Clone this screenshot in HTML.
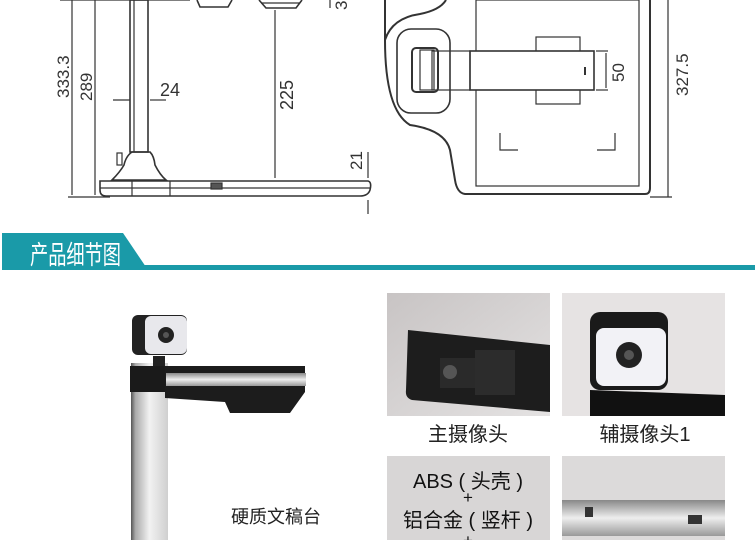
<!DOCTYPE html>
<html><head><meta charset="utf-8"><style>
html,body{margin:0;padding:0;background:#fff;width:755px;height:540px;overflow:hidden}
svg{display:block}
text{font-family:"Liberation Sans","Noto Sans CJK SC",sans-serif}
</style></head><body>
<svg width="755" height="540" viewBox="0 0 755 540" xmlns="http://www.w3.org/2000/svg">
<defs>
<linearGradient id="pole" x1="0" x2="1"><stop offset="0" stop-color="#555"/><stop offset=".12" stop-color="#aaa"/><stop offset=".5" stop-color="#f2f2f2"/><stop offset="1" stop-color="#cfcfcf"/></linearGradient>
<linearGradient id="bar" x1="0" y1="0" x2="0" y2="1"><stop offset="0" stop-color="#888"/><stop offset=".5" stop-color="#eee"/><stop offset="1" stop-color="#999"/></linearGradient>
<linearGradient id="ph1" x1="0" y1="0" x2="1" y2="1"><stop offset="0" stop-color="#c8c4c4"/><stop offset="1" stop-color="#e4e2e2"/></linearGradient>
</defs>
<g fill="none" stroke="#333" stroke-width="1.2">
<line x1="60" y1="0" x2="190" y2="0"/>
<line x1="72" y1="0" x2="72" y2="195"/>
<line x1="95" y1="0" x2="95" y2="195"/>
<line x1="68" y1="197" x2="110" y2="197"/>
<rect x="130" y="0" width="18" height="152" stroke-width="1.6"/>
<line x1="134" y1="0" x2="134" y2="152"/>
<line x1="113" y1="100" x2="130" y2="100"/><line x1="150" y1="100" x2="166" y2="100"/>
<path d="M132 152 L150 152 Q154 156 155 165 Q160 175 166 180 L112 180 Q120 172 124 165 Q126 156 132 152Z" stroke-width="1.6"/>
<rect x="117" y="153" width="5" height="12"/>
<path d="M100 181 L368 181 Q372 182 370 190 Q368 196 360 196 L106 196 Q100 196 100 190Z" stroke-width="1.6"/>
<line x1="100" y1="188" x2="370" y2="188"/>
<line x1="132" y1="181" x2="132" y2="196"/>
<line x1="170" y1="181" x2="170" y2="196"/>
<rect x="211" y="183" width="11" height="6" fill="#555"/>
<path d="M197 0 L200 7 L228 7 L232 0" stroke-width="1.6"/>
<path d="M259 0 L266 8 L296 8 L302 0" stroke-width="1.6"/>
<line x1="261" y1="3" x2="300" y2="3"/>
<line x1="275" y1="10" x2="275" y2="178"/>
<line x1="368" y1="152" x2="368" y2="178"/><line x1="368" y1="200" x2="368" y2="214"/>
<line x1="330" y1="8" x2="330" y2="0"/>
<path d="M385 0 L385 40 Q385 110 410 125 Q445 130 450 150 L455 180 Q457 193 465 194 L645 194 Q650 194 650 188 L650 0" stroke-width="2"/>
<path d="M385 40 Q392 18 420 14 Q440 10 446 0" stroke-width="2"/>
<rect x="476" y="0" width="163" height="186"/>
<line x1="668" y1="0" x2="668" y2="197"/>
<line x1="650" y1="197" x2="672" y2="197"/>
<rect x="397" y="29" width="53" height="84" rx="14" stroke-width="1.6"/>
<rect x="412" y="48" width="26" height="44" rx="4" stroke-width="2"/>
<rect x="420" y="50" width="14" height="40"/>
<rect x="536" y="37" width="44" height="67"/>
<rect x="470" y="51" width="124" height="39" fill="#fff" stroke-width="1.6"/>
<rect x="432" y="51" width="38" height="39" fill="none"/>
<line x1="596" y1="51" x2="608" y2="51"/><line x1="596" y1="90" x2="608" y2="90"/>
<line x1="606" y1="53" x2="606" y2="88"/>
<path d="M500 133 L500 150 L518 150 M615 133 L615 150 L597 150"/>
<line x1="585" y1="67" x2="585" y2="75" stroke-width="2"/>
</g>
<g fill="#333" font-size="17">
<text transform="translate(69,98) rotate(-90)">333.3</text>
<text transform="translate(92,101) rotate(-90)">289</text>
<text x="160" y="96" font-size="18">24</text>
<text transform="translate(293,110) rotate(-90)" font-size="18">225</text>
<text transform="translate(362,170) rotate(-90)">21</text>
<text transform="translate(347,10) rotate(-90)">3</text>
<text transform="translate(624,82) rotate(-90)">50</text>
<text transform="translate(688,96) rotate(-90)">327.5</text>
</g>
<rect x="140" y="265" width="615" height="5" fill="#1a9aa8"/>
<path d="M2 233 L123 233 L148 270 L2 270Z" fill="#1a9aa8"/>
<text transform="translate(30,264) scale(0.7,1)" font-size="26" fill="#fff">产品细节图</text>
<rect x="131" y="363" width="37" height="177" fill="url(#pole)"/>
<path d="M130 366 L168 366 L168 392 L130 392Z" fill="#1a1a1a"/>
<path d="M165 366 L305 366 L305 392 L290 413 L230 413 L225 402 L165 398Z" fill="#1c1c1c"/>
<rect x="166" y="373" width="140" height="13" fill="url(#bar)"/>
<rect x="153" y="356" width="12" height="10" fill="#222"/>
<rect x="132" y="315" width="55" height="40" rx="6" fill="#222"/>
<rect x="145" y="316" width="42" height="38" rx="6" fill="#e8e8ec"/>
<circle cx="166" cy="335" r="8" fill="#222"/><circle cx="166" cy="335" r="3" fill="#555"/>
<text x="231" y="523" font-size="18" fill="#222">硬质文稿台</text>
<rect x="387" y="293" width="163" height="123" fill="url(#ph1)"/>
<path d="M408 330 L550 345 L550 412 L412 400 Q405 398 406 390Z" fill="#1d1d1d"/>
<rect x="440" y="358" width="40" height="30" fill="#2a2a2a"/>
<circle cx="450" cy="372" r="7" fill="#555"/>
<rect x="475" y="350" width="40" height="45" fill="#2c2c2c"/>
<text x="468" y="441" font-size="20" fill="#222" text-anchor="middle">主摄像头</text>
<rect x="562" y="293" width="163" height="123" fill="#e6e3e3"/>
<path d="M590 390 L725 395 L725 416 L590 416Z" fill="#111"/>
<rect x="590" y="312" width="78" height="78" rx="10" fill="#1a1a1a"/>
<rect x="596" y="328" width="70" height="58" rx="8" fill="#f2f2f6"/>
<circle cx="629" cy="355" r="13" fill="#222"/><circle cx="629" cy="355" r="5" fill="#555"/>
<text x="645" y="441" font-size="20" fill="#222" text-anchor="middle">辅摄像头1</text>
<rect x="387" y="456" width="163" height="84" fill="#d8d6d6"/>
<text x="468" y="488" font-size="20" fill="#111" text-anchor="middle">ABS ( 头壳 )</text>
<text x="468" y="503" font-size="17" fill="#111" text-anchor="middle">+</text>
<text x="468" y="527" font-size="20" fill="#111" text-anchor="middle">铝合金 ( 竖杆 )</text>
<text x="468" y="546" font-size="17" fill="#111" text-anchor="middle">+</text>
<rect x="562" y="456" width="163" height="84" fill="#dcdada"/>
<rect x="562" y="500" width="163" height="36" fill="url(#bar)"/>
<rect x="585" y="507" width="8" height="10" fill="#333"/>
<rect x="688" y="515" width="14" height="9" fill="#333"/>
</svg>
</body></html>
